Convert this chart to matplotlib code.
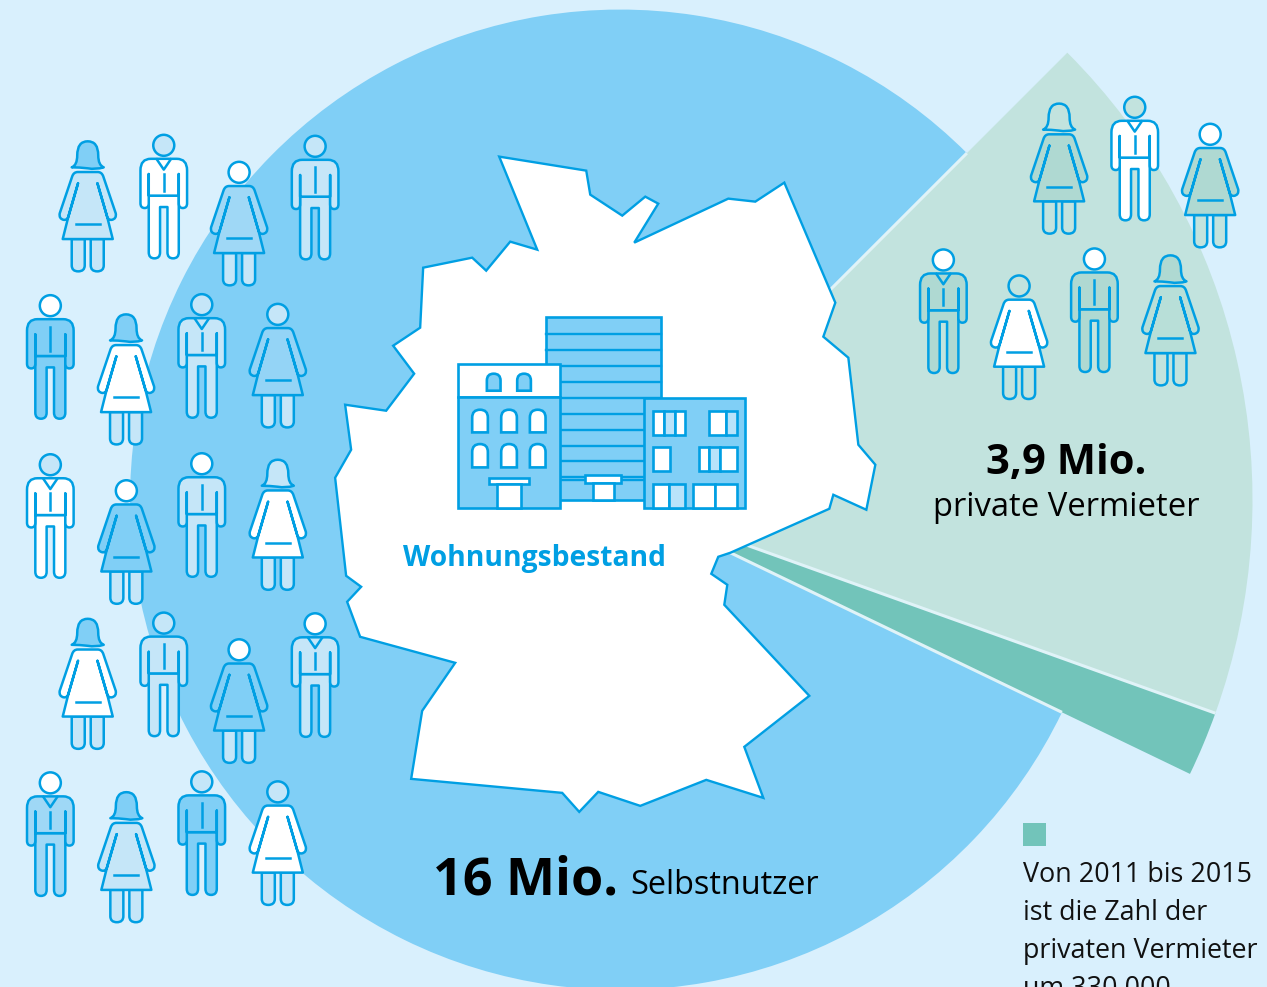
import numpy as np
import matplotlib
matplotlib.use('Agg')
import matplotlib.pyplot as plt
from matplotlib.path import Path
from matplotlib.patches import PathPatch, Circle, Polygon, Rectangle
from matplotlib.transforms import Affine2D

W, H = 1267, 987

# Mio. private landlords (2011), increase 2011-2015, owner occupiers
segments = ['Selbstnutzer', 'private Vermieter', 'Zuwachs']
values = [3.58, 0.33, 16]
total_landlords = '3,9 Mio.'
total_owners = '16 Mio.'

BG = '#D9F0FD'
BLUE = '#80CFF6'
LINE = '#009FE3'
PALE = '#C5E6F8'
MID = '#9FD8F6'
GREEN = '#C2E3DE'
GREEN_MID = '#AFD9D2'
TEAL = '#72C4BA'
WHITE = '#FFFFFF'

# x, y of head, kind (m man, c man with collar, w woman, h woman with hair), head, body, legs
people = [
    (87.7, 158.7, 'h', BLUE, PALE, PALE),
    (163.7, 145.7, 'c', PALE, WHITE, WHITE),
    (239, 172.7, 'w', WHITE, MID, PALE),
    (315, 146.7, 'm', PALE, PALE, PALE),
    (50.3, 306, 'm', WHITE, BLUE, BLUE),
    (126, 331.7, 'h', BLUE, WHITE, PALE),
    (201.7, 305, 'c', PALE, PALE, PALE),
    (277.7, 314.7, 'w', PALE, '#94D4F6', PALE),
    (50.3, 465, 'c', PALE, WHITE, WHITE),
    (126.3, 491, 'w', WHITE, BLUE, PALE),
    (201.7, 464, 'm', WHITE, PALE, PALE),
    (277.7, 477, 'h', PALE, WHITE, PALE),
    (87.7, 636, 'h', BLUE, WHITE, PALE),
    (163.7, 623.3, 'm', PALE, PALE, PALE),
    (239, 650, 'w', WHITE, BLUE, PALE),
    (315, 624, 'c', WHITE, PALE, PALE),
    (50.3, 783, 'c', WHITE, MID, MID),
    (126.3, 809.3, 'h', BLUE, PALE, PALE),
    (201.7, 782, 'm', PALE, BLUE, BLUE),
    (277.7, 792, 'w', PALE, WHITE, PALE),
    (1058.7, 121, 'h', GREEN, GREEN_MID, GREEN),
    (1134.3, 107.7, 'c', GREEN, WHITE, WHITE),
    (1209.7, 134.7, 'w', WHITE, GREEN_MID, GREEN),
    (943, 260.3, 'c', WHITE, GREEN_MID, GREEN_MID),
    (1018.7, 286.3, 'w', GREEN, WHITE, GREEN),
    (1094, 259.3, 'm', WHITE, GREEN_MID, GREEN_MID),
    (1170, 272.7, 'h', GREEN_MID, '#B8DFD8', GREEN),
]

germany = [
    (499, 157), (586, 171), (590, 195), (622, 216), (645, 197), (658, 204), (634, 243),
    (728, 199), (755, 202), (784, 183), (835, 303), (823, 337), (848, 358), (858, 445),
    (875, 465), (866, 510), (833, 495), (829, 509), (730, 553), (718, 557), (711, 574),
    (727, 585), (724, 605), (809, 696), (744, 747), (763, 798), (706, 780), (640, 806),
    (598, 792), (579, 812), (562, 793), (411, 779), (422, 711), (455, 663), (360, 637),
    (347, 602), (361, 587), (346, 576), (335, 478), (351, 450), (345, 405), (386, 411),
    (414, 374), (393, 346), (420, 328), (423, 268), (472, 258), (486, 271), (510, 242),
    (537, 250),
]

M, L, Q, Z = Path.MOVETO, Path.LINETO, Path.CURVE3, Path.CLOSEPOLY


def make_path(cmds):
    verts, codes = [], []
    for c in cmds:
        if c[0] == 'M':
            verts.append(c[1]); codes.append(M)
        elif c[0] == 'L':
            verts.append(c[1]); codes.append(L)
        elif c[0] == 'Q':
            verts += [c[1], c[2]]; codes += [Q, Q]
        else:
            verts.append(verts[-1]); codes.append(Z)
    return Path(verts, codes)


man_body = make_path([
    ('M', (-13, 13.5)), ('Q', (-23.3, 13.5), (-23.3, 25)), ('L', (-23.3, 58)),
    ('Q', (-23.3, 62.7), (-19, 62.7)), ('Q', (-15, 62.7), (-15, 58)), ('L', (-15, 28.7)),
    ('L', (-15, 50.3)), ('L', (15, 50.3)), ('L', (15, 28.7)), ('L', (15, 58)),
    ('Q', (15, 62.7), (19, 62.7)), ('Q', (23.3, 62.7), (23.3, 58)), ('L', (23.3, 25)),
    ('Q', (23.3, 13.5), (13, 13.5)), ('Z',)])
man_legs = make_path([
    ('M', (-15, 50.3)), ('L', (-15, 107)), ('Q', (-15, 113), (-9.3, 113)),
    ('Q', (-3.7, 113), (-3.7, 107)), ('L', (-3.7, 61.7)), ('L', (3.7, 61.7)), ('L', (3.7, 107)),
    ('Q', (3.7, 113), (9.3, 113)), ('Q', (15, 113), (15, 107)), ('L', (15, 50.3)), ('Z',)])
woman_body = make_path([
    ('M', (-10, 13.7)), ('Q', (-14, 13.7), (-15.5, 18)), ('L', (-28, 55)),
    ('Q', (-29, 60.5), (-24, 61.5)), ('Q', (-20.5, 62), (-19.3, 58)), ('L', (-9.7, 25)),
    ('L', (-19.3, 58)), ('L', (-25, 80.7)), ('L', (25, 80.7)), ('L', (19.3, 58)),
    ('L', (9.7, 25)), ('L', (19.3, 58)), ('Q', (20.5, 62), (24, 61.5)), ('Q', (29, 60.5), (28, 55)),
    ('L', (15.5, 18)), ('Q', (14, 13.7), (10, 13.7)), ('Z',)])
woman_leg_l = make_path([
    ('M', (-16, 80.7)), ('L', (-16, 107)), ('Q', (-16, 113), (-9.5, 113)),
    ('Q', (-3, 113), (-3, 107)), ('L', (-3, 80.7)), ('Z',)])
woman_leg_r = make_path([
    ('M', (16, 80.7)), ('L', (16, 107)), ('Q', (16, 113), (9.5, 113)),
    ('Q', (3, 113), (3, 107)), ('L', (3, 80.7)), ('Z',)])
hair = make_path([
    ('M', (-16, 9)), ('Q', (-10.5, 7), (-10.5, -3)), ('Q', (-10.5, -17), (0, -17)),
    ('Q', (10.5, -17), (10.5, -3)), ('Q', (10.5, 7), (16, 9)), ('Q', (8, 11.5), (0, 10)),
    ('Q', (-8, 9), (-16, 9)), ('Z',)])

fig = plt.figure(figsize=((W + 0.5) / 100, (H + 0.5) / 100), dpi=100, facecolor=BG)
ax = fig.add_axes([0, 0, 1, 1])

# sector pie, the light one reaches further out than the big one
ax.pie(values, colors=[GREEN, TEAL, 'none'], radius=632, center=(620, 500), startangle=-45,
       frame=True, wedgeprops={'linewidth': 0})
ax.pie(values, colors=['none', 'none', BLUE], radius=490, center=(620, 500), startangle=-45,
       frame=True, wedgeprops={'linewidth': 0})
ax.set_xlim(0, W)
ax.set_ylim(H, 0)
ax.axis('off')

# thin light gaps between the sectors
angles = -45 + np.cumsum([0] + values) / sum(values) * 360
for a, r in zip(angles[:3], [490, 632, 490]):
    t = np.radians(a)
    ax.plot([620, 620 + r * np.cos(t)], [500, 500 + r * np.sin(t)], color='#E0F3F8', lw=2.2, zorder=2,
            solid_capstyle='butt')

ax.add_patch(Polygon(germany, closed=True, facecolor=WHITE, edgecolor=LINE, lw=1.7, zorder=3, joinstyle='miter'))


def draw_person(x, y, kind, head, body, legs):
    tr = Affine2D().translate(x, y) + ax.transData
    st = dict(edgecolor=LINE, lw=1.8, zorder=4, transform=tr, joinstyle='round')
    if kind in 'mc':
        ax.add_patch(PathPatch(man_legs, facecolor=legs, **st))
        ax.add_patch(PathPatch(man_body, facecolor=body, **st))
        ax.add_patch(Circle((0, 0), 10.5, facecolor=head, **st))
        top = 28.7 if kind == 'c' else 21
        ax.plot([0, 0], [top, 45.3], color=LINE, lw=1.8, transform=tr, zorder=5)
        if kind == 'c':
            ax.plot([-7, 0, 7], [14, 24.3, 14], color=LINE, lw=1.8, transform=tr, zorder=5)
    else:
        ax.add_patch(PathPatch(woman_leg_l, facecolor=legs, **st))
        ax.add_patch(PathPatch(woman_leg_r, facecolor=legs, **st))
        ax.add_patch(PathPatch(woman_body, facecolor=body, **st))
        if kind == 'h':
            ax.add_patch(PathPatch(hair, facecolor=head, **st))
        else:
            ax.add_patch(Circle((0, 0), 10.5, facecolor=head, **st))
        ax.plot([-12, 12], [66, 66], color=LINE, lw=1.8, transform=tr, zorder=5)


for p in people:
    draw_person(*p)


# building, drawn in the coordinates of a 3x crop
def bx(v):
    return 445 + v / 3


def by(v):
    return 305 + v / 3


def box(x0, x1, y0, y1, fc, z=6, lw=1.9):
    ax.add_patch(Rectangle((bx(x0), by(y0)), (x1 - x0) / 3, (y1 - y0) / 3, facecolor=fc, edgecolor=LINE,
                           lw=lw, zorder=z))


def arch(x0, x1, y0, y1, fc):
    r = (x1 - x0) / 2
    cx = (x0 + x1) / 2
    p = make_path([('M', (bx(x0), by(y1))), ('L', (bx(x0), by(y0 + r))), ('Q', (bx(x0), by(y0)), (bx(cx), by(y0))),
                   ('Q', (bx(x1), by(y0)), (bx(x1), by(y0 + r))), ('L', (bx(x1), by(y1))), ('Z',)])
    ax.add_patch(PathPatch(p, facecolor=fc, edgecolor=LINE, lw=1.9, zorder=8))


def hline(x0, x1, y):
    ax.plot([bx(x0), bx(x1)], [by(y), by(y)], color=LINE, lw=1.7, zorder=7)


box(303, 647, 37, 585, BLUE)
for yy in [88, 135, 183, 232, 280, 327, 375, 423, 470, 517, 527]:
    hline(303, 647, yy)

box(37, 345, 177, 277, WHITE, z=7)
box(37, 345, 277, 610, BLUE, z=7)
for x0, x1 in [(125, 166), (216, 257)]:
    arch(x0, x1, 207, 258, BLUE)
for y0, y1 in [(315, 383), (418, 488)]:
    for x0, x1 in [(81, 128), (168, 215), (254, 301)]:
        arch(x0, x1, y0, y1, WHITE)
box(130, 252, 521, 538, WHITE, z=8)
box(156, 228, 538, 610, WHITE, z=8)
box(420, 527, 510, 536, WHITE, z=8)
box(442, 506, 536, 585, WHITE, z=8)

box(597, 900, 280, 610, BLUE, z=7)
LIGHTPANE = '#B9E3FA'
for x0, x1, y0, y1, fc in [
    (623, 656, 318, 392, WHITE), (656, 688, 318, 392, LIGHTPANE), (688, 719, 318, 392, WHITE),
    (792, 842, 318, 392, WHITE), (842, 874, 318, 392, LIGHTPANE),
    (623, 673, 427, 500, WHITE),
    (762, 791, 427, 500, WHITE), (791, 823, 427, 500, LIGHTPANE), (823, 874, 427, 500, WHITE),
    (623, 671, 537, 610, WHITE), (671, 719, 537, 610, LIGHTPANE),
    (744, 808, 537, 610, WHITE), (808, 874, 537, 610, WHITE),
]:
    box(x0, x1, y0, y1, fc, z=8)

FONT = ['Open Sans', 'DejaVu Sans']
ax.text(534, 566, 'Wohnungsbestand', color=LINE, fontsize=20.3, fontweight='bold', family=FONT, ha='center',
        va='baseline', zorder=9)
ax.text(1066, 474, total_landlords, color='#000000', fontsize=30, fontweight='bold', family=FONT, ha='center',
        va='baseline', zorder=9)
ax.text(1066, 516, segments[1], color='#000000', fontsize=23.6, family=FONT, ha='center', va='baseline', zorder=9)
ax.text(433, 894, total_owners, color='#000000', fontsize=37.5, fontweight='bold', family=FONT, ha='left',
        va='baseline', zorder=9)
ax.text(630, 894, segments[0], color='#000000', fontsize=23.4, family=FONT, ha='left', va='baseline', zorder=9)

ax.add_patch(Rectangle((1023, 823), 23, 23, facecolor=TEAL, edgecolor='none', zorder=9))
note = ['Von 2011 bis 2015', 'ist die Zahl der', 'privaten Vermieter', 'um 330.000']
for line, yy in zip(note, [882, 920, 958, 996]):
    ax.text(1023, yy, line, color='#111111', fontsize=19.4, family=FONT, ha='left', va='baseline', zorder=9)

fig.savefig('out.png', dpi=100, facecolor=BG)
